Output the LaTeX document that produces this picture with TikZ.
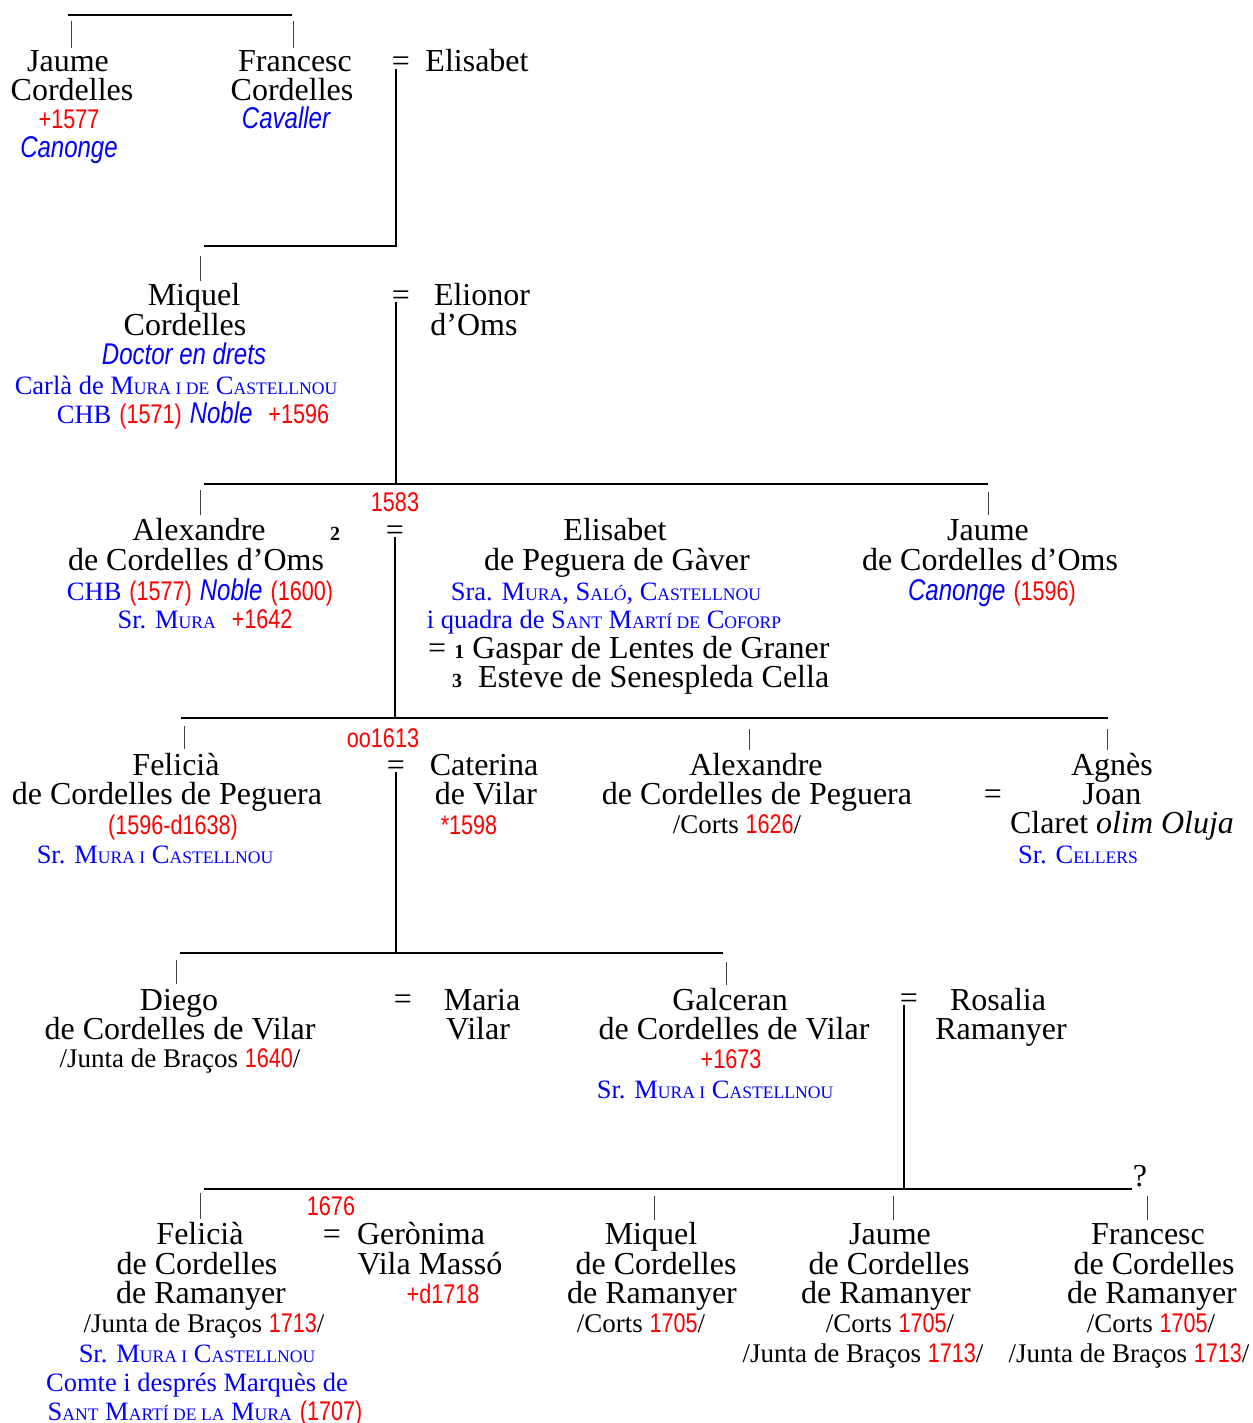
\documentclass[tikz,border=0pt]{standalone}
\usepackage{fontspec}
\setmainfont{Liberation Serif}
\newfontfamily\narrowsans{Liberation Sans}[FakeStretch=0.8]
\definecolor{rd}{RGB}{255,0,0}
\definecolor{bl}{RGB}{0,0,255}
\newcommand\RedN[1]{{\narrowsans\fontsize{27}{27}\selectfont\color{rd}#1}}
\newcommand\BlueI[1]{{\narrowsans\itshape\fontsize{30}{30}\selectfont\color{bl}#1}}
\newcommand\BlueS[1]{{\fontsize{26.5}{26.5}\selectfont\color{bl}#1}}
\newcommand\SmC[1]{{\fontsize{17.6}{17.6}\selectfont #1}}
\newcommand\Sm[1]{{\fontsize{27}{27}\selectfont #1}}
\newcommand\NumB[1]{{\fontsize{20}{20}\selectfont\bfseries #1}}
\begin{document}
\begin{tikzpicture}[x=1pt,y=-1pt,
  nm/.style={anchor=base,inner sep=0pt,font=\fontsize{32}{30}\selectfont},
  ln/.style={line width=1.4pt},
  tk/.style={line width=1pt,black!75},
]
\useasboundingbox[fill=white] (0,0) rectangle (1252,1423);

% ---------- Row A
\node[nm] (jauA) at (68,72) {Jaume};
\node[nm] (jauA2) at (72,101) {Cordelles};
\node[nm] (jauA3) at (69,129) {\RedN{+1577}};
\node[nm] (jauA4) at (69,158) {\BlueI{Canonge}};
\node[nm] (fraA) at (295,72) {Francesc};
\node[nm] (fraA2) at (292,101) {Cordelles};
\node[nm] (fraA3) at (286,129) {\BlueI{Cavaller}};
\node[nm] (eqA) at (401,72) {=};
\node[nm] (elsA) at (477,72) {Elisabet};

% ---------- Row B
\node[nm] (miqB) at (194,305) {Miquel};
\node[nm] (miqB2) at (185,335) {Cordelles};
\node[nm] (miqB3) at (184,364) {\BlueI{Doctor en drets}};
\node[nm] (miqB4) at (176,394) {\BlueS{Carlà de M\SmC{URA I DE} C\SmC{ASTELLNOU}}};
\node[nm] (miqB5) at (193,423) {\BlueS{CHB} \RedN{(1571)} \BlueI{Noble}\ \ \RedN{+1596}};
\node[nm] (eqB) at (401,305) {=};
\node[nm] (eliB) at (482,305) {Elionor};
\node[nm] (eliB2) at (474,335) {d’Oms};

% ---------- Row C
\node[nm] (y1583) at (395,511) {\RedN{1583}};
\node[nm] (alxC) at (199,540) {Alexandre};
\node[nm] (two) at (335,540) {\NumB{2}};
\node[nm] (eqC) at (395,540) {=};
\node[nm] (alxC2) at (196,570) {de Cordelles d’Oms};
\node[nm] (alxC3) at (200,600) {\BlueS{CHB} \RedN{(1577)} \BlueI{Noble} \RedN{(1600)}};
\node[nm] (alxC4) at (205,628) {\BlueS{Sr. M\SmC{URA}}\ \ \RedN{+1642}};
\node[nm] (elsC) at (615,540) {Elisabet};
\node[nm] (elsC2) at (617,570) {de Peguera de Gàver};
\node[nm] (elsC3) at (606,600) {\BlueS{Sra. M\SmC{URA}, S\SmC{ALÓ}, C\SmC{ASTELLNOU}}};
\node[nm] (elsC4) at (604,628) {\BlueS{i quadra de S\SmC{ANT} M\SmC{ARTÍ DE} C\SmC{OFORP}}};
\node[nm,anchor=base west] (elsC5) at (428,658) {= \NumB{1} Gaspar de Lentes de Graner};
\node[nm,anchor=base west] (elsC6) at (452,687) {\NumB{3}\ \ Esteve de Senespleda Cella};
\node[nm] (jauC) at (988,540) {Jaume};
\node[nm] (jauC2) at (990,570) {de Cordelles d’Oms};
\node[nm] (jauC3) at (992,600) {\BlueI{Canonge} \RedN{(1596)}};

% ---------- Row D
\node[nm] (y1613) at (383,747) {\RedN{oo1613}};
\node[nm] (felD) at (176,775) {Felicià};
\node[nm] (felD2) at (167,804) {de Cordelles de Peguera};
\node[nm] (felD3) at (173,834) {\RedN{(1596-d1638)}};
\node[nm] (felD4) at (155,863) {\BlueS{Sr. M\SmC{URA I} C\SmC{ASTELLNOU}}};
\node[nm] (eqD) at (396,775) {=};
\node[nm] (catD) at (484,775) {Caterina};
\node[nm] (catD2) at (486,804) {de Vilar};
\node[nm] (catD3) at (469,834) {\RedN{*1598}};
\node[nm] (alxD) at (756,775) {Alexandre};
\node[nm] (alxD2) at (757,804) {de Cordelles de Peguera};
\node[nm] (alxD3) at (737,833) {\Sm{/Corts \RedN{1626}/}};
\node[nm] (eqD2) at (993,804) {=};
\node[nm] (agnD) at (1112,775) {Agnès};
\node[nm] (agnD2) at (1112,804) {Joan};
\node[nm] (agnD3) at (1122,833) {Claret \textit{olim Oluja}};
\node[nm] (agnD4) at (1078,863) {\BlueS{Sr. C\SmC{ELLERS}}};

% ---------- Row E
\node[nm] (dieE) at (179,1010) {Diego};
\node[nm] (dieE2) at (180,1039) {de Cordelles de Vilar};
\node[nm] (dieE3) at (180,1067) {\Sm{/Junta de Braços \RedN{1640}/}};
\node[nm] (eqE) at (403,1009) {=};
\node[nm] (marE) at (482,1010) {Maria};
\node[nm] (marE2) at (478,1039) {Vilar};
\node[nm] (galE) at (730,1010) {Galceran};
\node[nm] (galE2) at (734,1039) {de Cordelles de Vilar};
\node[nm] (galE3) at (731,1068) {\RedN{+1673}};
\node[nm] (galE4) at (715,1098) {\BlueS{Sr. M\SmC{URA I} C\SmC{ASTELLNOU}}};
\node[nm] (eqE2) at (909,1008) {=};
\node[nm] (rosE) at (998,1010) {Rosalia};
\node[nm] (rosE2) at (1001,1039) {Ramanyer};

% ---------- Row F
\node[nm] (qm) at (1140,1186) {?};
\node[nm] (y1676) at (331,1215) {\RedN{1676}};
\node[nm] (felF) at (200,1244) {Felicià};
\node[nm] (felF2) at (197,1274) {de Cordelles};
\node[nm] (felF3) at (201,1303) {de Ramanyer};
\node[nm] (felF4) at (204,1332) {\Sm{/Junta de Braços \RedN{1713}/}};
\node[nm] (felF5) at (197,1362) {\BlueS{Sr. M\SmC{URA I} C\SmC{ASTELLNOU}}};
\node[nm] (felF6) at (197,1391) {\BlueS{Comte i després Marquès de}};
\node[nm] (felF7) at (205,1420) {\BlueS{S\SmC{ANT} M\SmC{ARTÍ DE LA} M\SmC{URA}} \RedN{(1707)}};
\node[nm] (eqF) at (332,1244) {=};
\node[nm] (gerF) at (421,1244) {Gerònima};
\node[nm] (gerF2) at (430,1274) {Vila Massó};
\node[nm] (gerF3) at (443,1303) {\RedN{+d1718}};
\node[nm] (miqF) at (651,1244) {Miquel};
\node[nm] (miqF2) at (656,1274) {de Cordelles};
\node[nm] (miqF3) at (652,1303) {de Ramanyer};
\node[nm] (miqF4) at (641,1332) {\Sm{/Corts \RedN{1705}/}};
\node[nm] (jauF) at (890,1244) {Jaume};
\node[nm] (jauF2) at (889,1274) {de Cordelles};
\node[nm] (jauF3) at (886,1303) {de Ramanyer};
\node[nm] (jauF4) at (890,1332) {\Sm{/Corts \RedN{1705}/}};
\node[nm] (jauF5) at (863,1362) {\Sm{/Junta de Braços \RedN{1713}/}};
\node[nm] (fraF) at (1148,1244) {Francesc};
\node[nm] (fraF2) at (1154,1274) {de Cordelles};
\node[nm] (fraF3) at (1152,1303) {de Ramanyer};
\node[nm] (fraF4) at (1151,1332) {\Sm{/Corts \RedN{1705}/}};
\node[nm] (fraF5) at (1129,1362) {\Sm{/Junta de Braços \RedN{1713}/}};

% ---------- connector coordinates
\coordinate (hA1) at (68,15);   \coordinate (hA2) at (292,15);
\coordinate (tA1a) at (71,21);  \coordinate (tA1b) at (71,48);
\coordinate (tA2a) at (293,21); \coordinate (tA2b) at (293,48);
\coordinate (vA1) at (396,69);  \coordinate (vA2) at (396,246);
\coordinate (hB1) at (204,246);
\coordinate (tB1a) at (200,256); \coordinate (tB1b) at (200,281);
\coordinate (vB1) at (396,302); \coordinate (vB2) at (396,484);
\coordinate (hC1) at (204,484); \coordinate (hC2) at (988,484);
\coordinate (tC1a) at (200,490); \coordinate (tC1b) at (200,515);
\coordinate (tC2a) at (988,492); \coordinate (tC2b) at (988,515);
\coordinate (vC1) at (395,537); \coordinate (vC2) at (395,718);
\coordinate (hD1) at (181,718); \coordinate (hD2) at (1108,718);
\coordinate (tD1a) at (184,726); \coordinate (tD1b) at (184,749);
\coordinate (tD2a) at (749,729); \coordinate (tD2b) at (749,750);
\coordinate (tD3a) at (1107,729); \coordinate (tD3b) at (1107,750);
\coordinate (vD1) at (396,772); \coordinate (vD2) at (396,953);
\coordinate (hE1) at (180,953); \coordinate (hE2) at (723,953);
\coordinate (tE1a) at (176,960); \coordinate (tE1b) at (176,984);
\coordinate (tE2a) at (726,962); \coordinate (tE2b) at (726,985);
\coordinate (vE1) at (904,1005); \coordinate (vE2) at (904,1188);
\coordinate (hF1) at (204,1189); \coordinate (hF2) at (1132,1189);
\coordinate (tF1a) at (200,1193); \coordinate (tF1b) at (200,1219);
\coordinate (tF2a) at (654,1196); \coordinate (tF2b) at (654,1220);
\coordinate (tF3a) at (893,1196); \coordinate (tF3b) at (893,1220);
\coordinate (tF4a) at (1147,1196); \coordinate (tF4b) at (1147,1220);

% ---------- connectors
\draw[ln] (hA1) -- (hA2);
\draw[tk] (tA1a) -- (tA1b);
\draw[tk] (tA2a) -- (tA2b);
\draw[ln] (vA1) -- (vA2) -- (hB1);
\draw[tk] (tB1a) -- (tB1b);
\draw[ln] (vB1) -- (vB2);
\draw[ln] (hC1) -- (hC2);
\draw[tk] (tC1a) -- (tC1b);
\draw[tk] (tC2a) -- (tC2b);
\draw[ln] (vC1) -- (vC2);
\draw[ln] (hD1) -- (hD2);
\draw[tk] (tD1a) -- (tD1b);
\draw[tk] (tD2a) -- (tD2b);
\draw[tk] (tD3a) -- (tD3b);
\draw[ln] (vD1) -- (vD2);
\draw[ln] (hE1) -- (hE2);
\draw[tk] (tE1a) -- (tE1b);
\draw[tk] (tE2a) -- (tE2b);
\draw[ln] (vE1) -- (vE2);
\draw[ln] (hF1) -- (hF2);
\draw[tk] (tF1a) -- (tF1b);
\draw[tk] (tF2a) -- (tF2b);
\draw[tk] (tF3a) -- (tF3b);
\draw[tk] (tF4a) -- (tF4b);
\end{tikzpicture}
\end{document}
